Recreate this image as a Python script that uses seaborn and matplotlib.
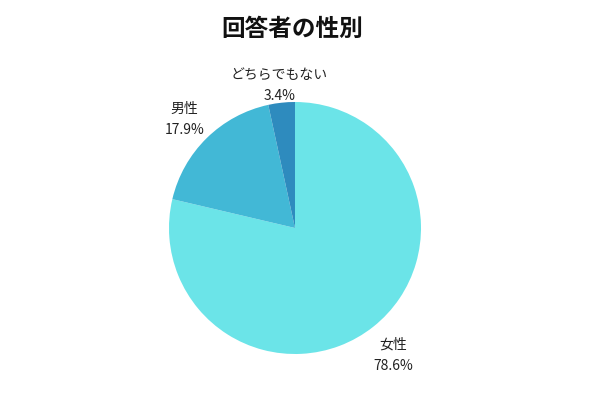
import matplotlib
matplotlib.use("Agg")
import matplotlib.pyplot as plt
import seaborn as sns
import numpy as np

categories = ["女性", "男性", "どちらでもない"]
values = [78.6, 17.9, 3.4]
colors = ["#6BE4E8", "#42B8D6", "#2E8BBE"]

sns.set_theme(style="white")
plt.rcParams['font.family'] = ['Noto Sans CJK JP', 'DejaVu Sans']

fig = plt.figure(figsize=(6, 4), dpi=100)
fig.patch.set_facecolor("white")
ax = fig.add_axes([(295 - 126) / 600, (400 - 354) / 400, 252 / 600, 252 / 400])

palette = sns.color_palette(colors)
labels = [f"{c}\n{v:.1f}%" for c, v in zip(categories, values)]
wedges, texts = ax.pie(values, labels=labels, colors=palette, startangle=90,
                       counterclock=False, radius=1, labeldistance=1.25,
                       wedgeprops=dict(linewidth=0, edgecolor="none"),
                       textprops=dict(fontsize=10, color="#222222", ha="center",
                                      va="center", linespacing=1.65))
label_dist = [1.25, 1.25, 1.17]
for w, t, d in zip(wedges, texts, label_dist):
    mid = np.deg2rad((w.theta1 + w.theta2) / 2)
    t.set_position((d * np.cos(mid), d * np.sin(mid) - 0.03))
    t.set_horizontalalignment("center")
ax.set_aspect("equal")
ax.set_xlim(-1, 1)
ax.set_ylim(-1, 1)

fig.text(292 / 600, 1 - 29 / 400, "回答者の性別", ha="center", va="center",
         fontsize=17, fontweight="bold", color="#111111")

fig.savefig("out.png", dpi=100, facecolor="white")
